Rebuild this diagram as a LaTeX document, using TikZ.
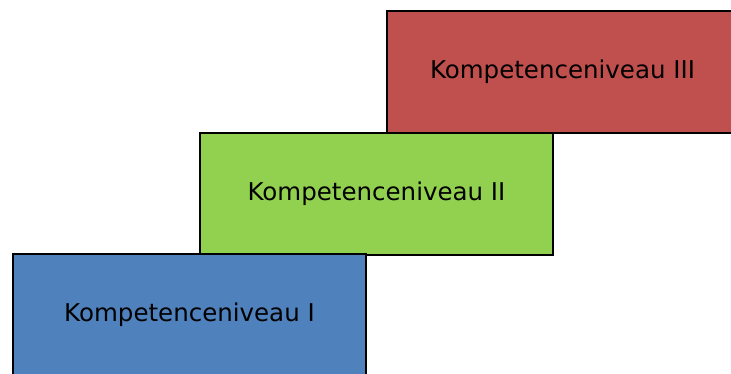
\documentclass[tikz,border=0pt]{standalone}
\usepackage{fontspec}
\setmainfont{DejaVu Sans}
\definecolor{niveaublue}{HTML}{4F81BD}
\definecolor{niveaugreen}{HTML}{92D050}
\definecolor{niveaured}{HTML}{C0504D}
\tikzset{niveau/.style={draw=black, line width=1.3pt, minimum height=122pt, inner sep=0pt,
    font=\fontsize{24.5}{29}\selectfont}}

\begin{document}
\begin{tikzpicture}[x=1pt,y=-1pt]
  \useasboundingbox (0,0) rectangle (731,374);
  % the three levels, drawn from the top down
  \node[niveau, fill=niveaured, minimum width=351pt] (niv3) at (562.5,72) {Kompetenceniveau III};
  \node[niveau, fill=niveaugreen, minimum width=353pt] (niv2) at (376.5,194) {Kompetenceniveau II};
  \node[niveau, fill=niveaublue, minimum width=353pt] (niv1) at (189.5,315) {Kompetenceniveau I};
\end{tikzpicture}
\end{document}
